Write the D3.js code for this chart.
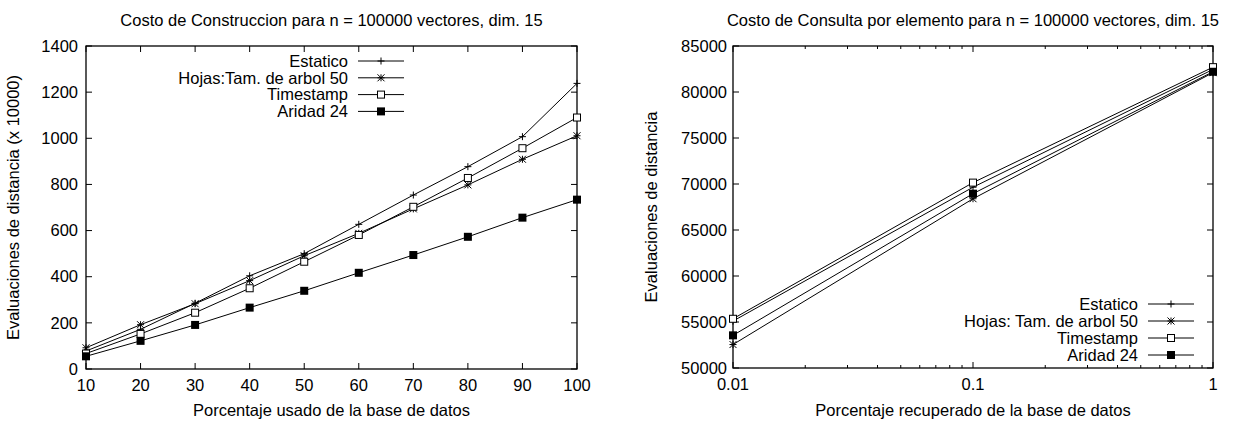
<!DOCTYPE html>
<html><head><meta charset="utf-8">
<script src="https://cdn.jsdelivr.net/npm/d3@7"></script>
<style>
body{margin:0;background:#fff}
svg{display:block}
text{font-family:"Liberation Sans",Arial,Helvetica,sans-serif;fill:#000}
</style></head>
<body>
<svg id="c" width="1235" height="421"></svg>
<script>
// ---- Left chart data ----
const buildX = [10,20,30,40,50,60,70,80,90,100];
const buildEstatico  = [78,172,285,404,500,627,754,877,1007,1238];
const buildHojas     = [92,192,283,383,491,588,694,798,909,1011];
const buildTimestamp = [67,152,244,350,465,581,703,828,957,1090];
const buildAridad    = [55,122,191,266,339,417,494,573,656,734];
const buildYTicks = [0,200,400,600,800,1000,1200,1400];
const buildXTicks = [10,20,30,40,50,60,70,80,90,100];
const buildLegend = ["Estatico","Hojas:Tam. de arbol 50","Timestamp","Aridad 24"];

// ---- Right chart data ----
const queryX = [0.01,0.1,1];
const queryEstatico  = [55100,69650,82450];
const queryHojas     = [52550,68400,82100];
const queryTimestamp = [55350,70150,82700];
const queryAridad    = [53550,68950,82200];
const queryYTicks = [50000,55000,60000,65000,70000,75000,80000,85000];
const queryXTicks = [0.01,0.1,1];
const queryLegend = ["Estatico","Hojas: Tam. de arbol 50","Timestamp","Aridad 24"];

const markers = ["plus","star","box","fbox"];

const svg = d3.select("#c");

function drawMarker(g, type, x, y){
  const s = 3.5;
  if(type==="plus"){
    g.append("path").attr("d",`M${x-s},${y}H${x+s}M${x},${y-s}V${y+s}`)
     .attr("stroke","#000").attr("stroke-width",1).attr("fill","none");
  } else if(type==="star"){
    g.append("path").attr("d",`M${x-s},${y}H${x+s}M${x},${y-s}V${y+s}M${x-s},${y-s}L${x+s},${y+s}M${x-s},${y+s}L${x+s},${y-s}`)
     .attr("stroke","#000").attr("stroke-width",1).attr("fill","none");
  } else if(type==="box"){
    g.append("rect").attr("x",x-s).attr("y",y-s).attr("width",2*s).attr("height",2*s)
     .attr("stroke","#000").attr("stroke-width",1).attr("fill","#fff");
  } else {
    g.append("rect").attr("x",x-s-0.5).attr("y",y-s-0.5).attr("width",2*s+1).attr("height",2*s+1)
     .attr("fill","#000");
  }
}

function chart(opt){
  const g = svg.append("g");
  const {x, y, series, xs} = opt;
  const [x0,x1] = x.range(), [y0,y1] = y.range(); // y0 bottom, y1 top
  // frame
  g.append("rect").attr("x",x0).attr("y",y1).attr("width",x1-x0).attr("height",y0-y1)
   .attr("fill","none").attr("stroke","#000").attr("stroke-width",1.3);
  // y ticks
  opt.yTicks.forEach(v=>{
    const yy = y(v);
    g.append("path").attr("d",`M${x0},${yy}h6M${x1},${yy}h-6`).attr("stroke","#000");
    g.append("text").attr("x",opt.yLabelX).attr("y",yy).attr("dy","0.35em")
     .attr("text-anchor","end").attr("font-size",opt.fs).text(opt.yFmt(v));
  });
  // x ticks
  opt.xTicks.forEach(v=>{
    const xx = x(v);
    g.append("path").attr("d",`M${xx},${y0}v-6M${xx},${y1}v6`).attr("stroke","#000");
    g.append("text").attr("x",xx).attr("y",y0+22).attr("text-anchor","middle")
     .attr("font-size",opt.fs).text(opt.xFmt(v));
  });
  (opt.xMinor||[]).forEach(v=>{
    const xx = x(v);
    g.append("path").attr("d",`M${xx},${y0}v-3M${xx},${y1}v3`).attr("stroke","#000");
  });
  // lines
  const line = d3.line().x((d,i)=>x(xs[i])).y(d=>y(d));
  series.forEach((s,k)=>{
    g.append("path").attr("d",line(s)).attr("fill","none").attr("stroke","#000").attr("stroke-width",1);
  });
  series.forEach((s,k)=>{
    s.forEach((v,i)=>drawMarker(g, markers[k], x(xs[i]), y(v)));
  });
  // legend
  opt.legend.forEach((t,k)=>{
    const ly = opt.legY + k*opt.legDy;
    g.append("text").attr("x",opt.legX).attr("y",ly).attr("dy","0.35em").attr("text-anchor","end")
     .attr("font-size",opt.fs).text(t);
    g.append("path").attr("d",`M${opt.legX+10},${ly}H${opt.legX+56}`).attr("stroke","#000");
    drawMarker(g, markers[k], opt.legX+33, ly);
  });
  // titles
  g.append("text").attr("x",(x0+x1)/2).attr("y",26).attr("text-anchor","middle")
   .attr("font-size",opt.fs).text(opt.title);
  g.append("text").attr("x",(x0+x1)/2).attr("y",416).attr("text-anchor","middle")
   .attr("font-size",opt.fs).text(opt.xTitle);
  g.append("text").attr("transform",`translate(${opt.yTitleX},${(y0+y1)/2}) rotate(-90)`)
   .attr("text-anchor","middle").attr("font-size",opt.fs).text(opt.yTitle);
}

const xL = d3.scaleLinear().domain([10,100]).range([86,577]);
const yL = d3.scaleLinear().domain([0,1400]).range([369,46]);
chart({x:xL, y:yL, xs:buildX,
  series:[buildEstatico,buildHojas,buildTimestamp,buildAridad],
  yTicks:buildYTicks, xTicks:buildXTicks, yFmt:d3.format("d"), xFmt:d3.format("d"),
  yLabelX:78, fs:16.5,
  legend:buildLegend, legX:348, legY:61, legDy:16.8,
  title:"Costo de Construccion para n = 100000 vectores, dim. 15",
  xTitle:"Porcentaje usado de la base de datos",
  yTitle:"Evaluaciones de distancia (x 10000)", yTitleX:19});

const xR = d3.scaleLog().domain([0.01,1]).range([733,1213]);
const yR = d3.scaleLinear().domain([50000,85000]).range([368,46]);
const minor = [];
[0.01,0.1].forEach(d=>{for(let m=2;m<=9;m++) minor.push(d*m);});
chart({x:xR, y:yR, xs:queryX,
  series:[queryEstatico,queryHojas,queryTimestamp,queryAridad],
  yTicks:queryYTicks, xTicks:queryXTicks, xMinor:minor, yFmt:d3.format("d"), xFmt:v=>String(v),
  yLabelX:727, fs:16.5,
  legend:queryLegend, legX:1138, legY:304, legDy:17,
  title:"Costo de Consulta por elemento para n = 100000 vectores, dim. 15",
  xTitle:"Porcentaje recuperado de la base de datos",
  yTitle:"Evaluaciones de distancia", yTitleX:657});
</script>
</body></html>
